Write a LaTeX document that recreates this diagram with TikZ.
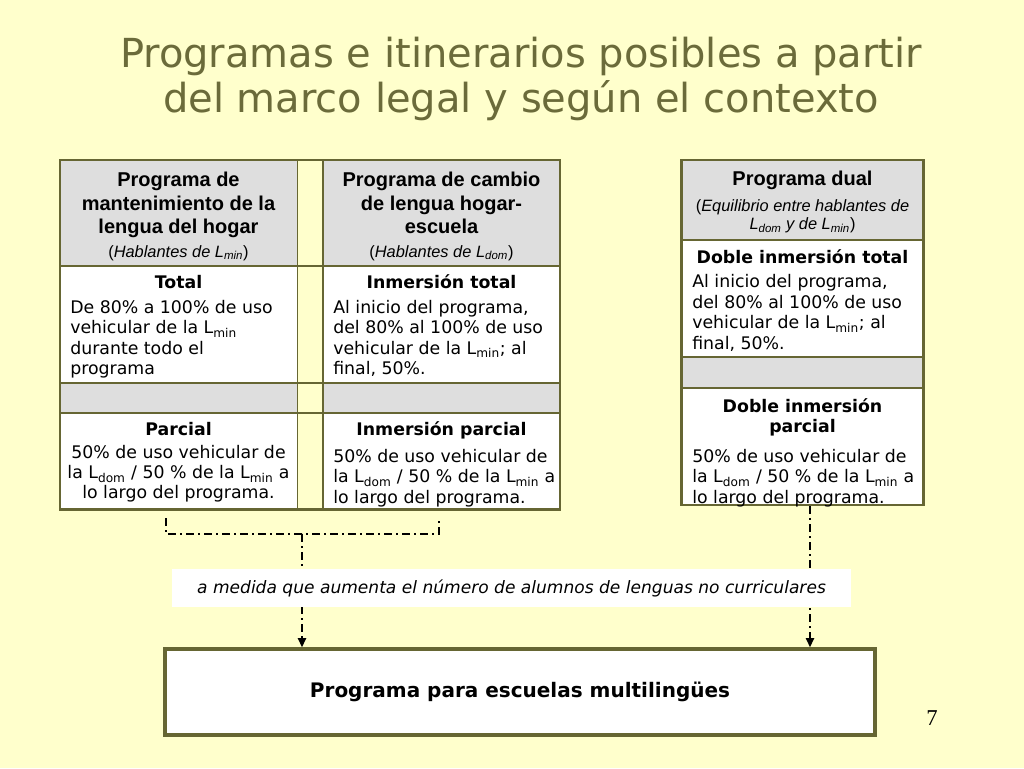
\documentclass[tikz,border=0pt]{standalone}
\usepackage{fontspec}
\setmainfont{DejaVu Sans}
\newfontfamily\arialf{Liberation Sans}
\newfontfamily\timesf{Liberation Serif}
\usetikzlibrary{arrows.meta}
\definecolor{bg}{HTML}{FFFFCC}
\definecolor{olive}{HTML}{666633}
\definecolor{titlec}{HTML}{6B6B3A}
\definecolor{cellgray}{HTML}{DEDEDE}
\begin{document}
\begin{tikzpicture}[x=0.75pt,y=-0.75pt,
  hdr/.style={font=\arialf\bfseries\fontsize{15}{17.6}\selectfont, align=center, inner sep=0, anchor=north},
  subt/.style={font=\arialf\fontsize{12.3}{13.7}\selectfont, align=center, inner sep=0, anchor=north},
  ttl/.style={font=\bfseries\fontsize{13}{15}\selectfont, align=center, inner sep=0, anchor=north},
  bodyl/.style={font=\fontsize{13}{15.3}\selectfont, align=left, inner sep=0, anchor=north west},
  bodyc/.style={font=\fontsize{13}{15}\selectfont, align=center, inner sep=0, anchor=north},
  inner/.style={draw=olive, line width=1.2pt},
  outer/.style={draw=olive, line width=2.2pt},
  dashdot/.style={draw=black, line width=1.6pt, dash pattern=on 6pt off 3pt on 1.5pt off 3pt},
  tip/.style={-{Triangle[width=6pt,length=7pt]}}
]
\fill[bg] (0,0) rectangle (1024,768);
\useasboundingbox (0,0) rectangle (1024,768);

% title
\node[font=\fontsize{30}{33.75}\selectfont, text=titlec, align=center, inner sep=0, anchor=north] (title) at (521,37)
  {Programas e itinerarios posibles a partir\\del marco legal y según el contexto};

% ---------- left table ----------
\fill[cellgray] (60,160) rectangle (297.5,266);
\fill[cellgray] (323,160) rectangle (560,266);
\fill[white] (60,266) rectangle (297.5,383);
\fill[white] (323,266) rectangle (560,383);
\fill[cellgray] (60,383) rectangle (297.5,413);
\fill[cellgray] (323,383) rectangle (560,413);
\fill[white] (60,413) rectangle (297.5,509.5);
\fill[white] (323,413) rectangle (560,509.5);
\foreach \yy in {266,383,413} \draw[inner] (60,\yy) -- (560,\yy);
\foreach \xx in {297.5,323} \draw[inner] (\xx,160) -- (\xx,509.5);
\draw[outer] (60,160) rectangle (560,509.5);

\node[hdr] (h1) at (178.5,172) {Programa de\\mantenimiento de la\\lengua del hogar};
\node[subt] (s1) at (178.5,245) {(\textit{Hablantes de L\textsubscript{min}})};
\node[ttl] (t1) at (178.5,275) {Total};
\node[bodyl] (b1) at (70,300) {De 80\% a 100\% de uso\\vehicular de la L\textsubscript{min}\\durante todo el\\programa};
\node[ttl] (t2) at (178.5,422) {Parcial};
\node[bodyc] (b2) at (178.5,445) {50\% de uso vehicular de\\la L\textsubscript{dom} / 50 \% de la L\textsubscript{min} a\\lo largo del programa.};

\node[hdr] (h2) at (441.5,172) {Programa de cambio\\de lengua hogar-\\escuela};
\node[subt] (s2) at (441.5,245) {(\textit{Hablantes de L\textsubscript{dom}})};
\node[ttl] (t3) at (441.5,274) {Inmersión total};
\node[bodyl] (b3) at (333,300) {Al inicio del programa,\\del 80\% al 100\% de uso\\vehicular de la L\textsubscript{min}; al\\final, 50\%.};
\node[ttl] (t4) at (441.5,421) {Inmersión parcial};
\node[bodyl] (b4) at (333,449) {50\% de uso vehicular de\\la L\textsubscript{dom} / 50 \% de la L\textsubscript{min} a\\lo largo del programa.};

% ---------- right table ----------
\fill[cellgray] (681.5,160) rectangle (923.5,240);
\fill[white] (681.5,240) rectangle (923.5,357);
\fill[cellgray] (681.5,357) rectangle (923.5,388);
\fill[white] (681.5,388) rectangle (923.5,505);
\foreach \yy in {240,357,388} \draw[inner] (681.5,\yy) -- (923.5,\yy);
\draw[outer] (681.5,160) rectangle (923.5,505);

\node[hdr] (h3) at (802.5,171) {Programa dual};
\node[subt] (s3) at (802.5,199) {(\textit{Equilibrio entre hablantes de}\\\textit{L\textsubscript{dom} y de L\textsubscript{min}})};
\node[ttl] (t5) at (802.5,249) {Doble inmersión total};
\node[bodyl] (b5) at (692,274.5) {Al inicio del programa,\\del 80\% al 100\% de uso\\vehicular de la L\textsubscript{min}; al\\final, 50\%.};
\node[ttl] (t6) at (802.5,398) {Doble inmersión\\parcial};
\node[bodyl] (b6) at (692,449) {50\% de uso vehicular de\\la L\textsubscript{dom} / 50 \% de la L\textsubscript{min} a\\lo largo del programa.};

% ---------- bottom ----------
\node[draw=olive, line width=2.4pt, fill=white, minimum width=532.5pt, minimum height=64.5pt, inner sep=0,
  font=\bfseries\fontsize{15}{18}\selectfont] (multi) at (520,692) {Programa para escuelas multilingües};

\coordinate (c1) at (166,518);
\coordinate (c2) at (439,518);
\coordinate (j) at (302,534);
\coordinate (r1) at (810,506);
\draw[dashdot] (c1) |- (j) -| (c2);
\draw[dashdot, tip] (j) -- (j |- multi.north);
\draw[dashdot, tip] (r1) -- (r1 |- multi.north);

\node[fill=white, minimum width=509.25pt, minimum height=28.5pt, inner sep=0,
  font=\itshape\fontsize{12.8}{14}\selectfont] (lbl) at (511.5,588)
  {a medida que aumenta el número de alumnos de lenguas no curriculares};

\node[font=\timesf\fontsize{17}{19}\selectfont, inner sep=0] (pg) at (932,718) {7};
\end{tikzpicture}
\end{document}
